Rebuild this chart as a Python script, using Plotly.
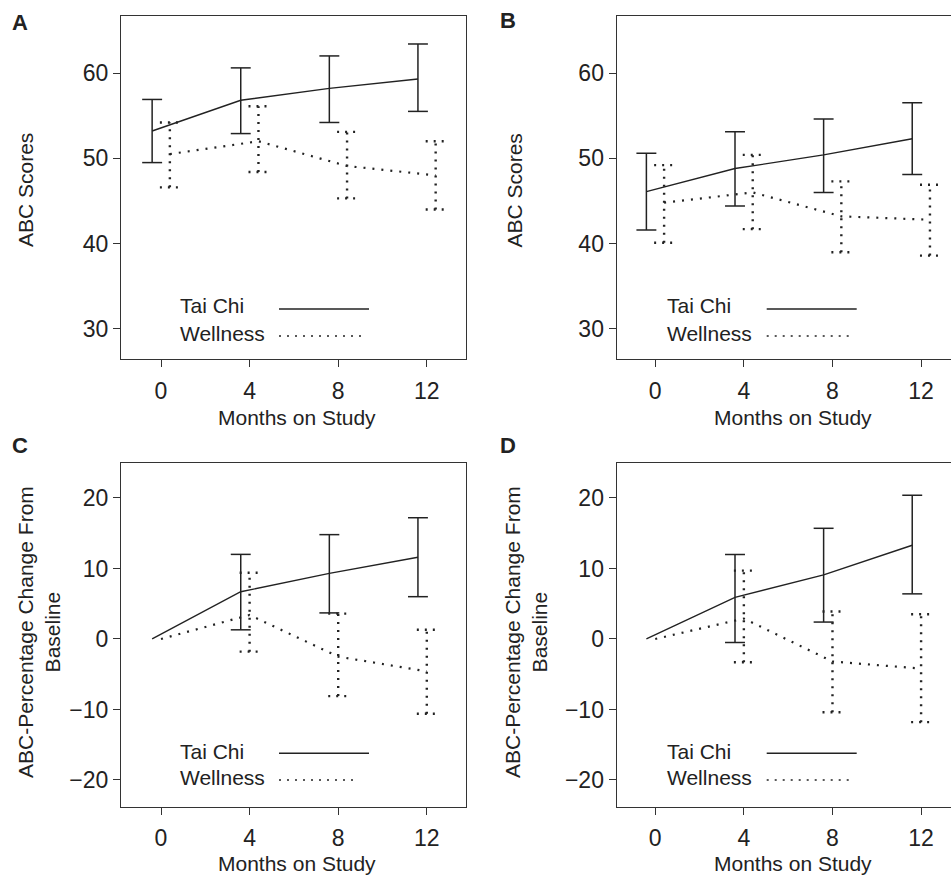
import plotly.graph_objects as go

# ---------------- data ----------------
months = [0, 4, 8, 12]
month_ticks = ["0", "4", "8", "12"]

# Panel A: ABC scores (all)
A_taichi_mean = [53.2, 56.8, 58.2, 59.3]
A_taichi_lo = [49.5, 52.9, 54.2, 55.5]
A_taichi_hi = [56.9, 60.6, 62.0, 63.4]
A_well_mean = [50.5, 52.0, 49.1, 48.0]
A_well_lo = [46.6, 48.4, 45.3, 44.0]
A_well_hi = [54.2, 56.1, 53.1, 52.0]

# Panel B: ABC scores (subgroup)
B_taichi_mean = [46.1, 48.8, 50.4, 52.3]
B_taichi_lo = [41.6, 44.4, 46.0, 48.1]
B_taichi_hi = [50.6, 53.1, 54.6, 56.5]
B_well_mean = [44.8, 46.0, 43.2, 42.8]
B_well_lo = [40.1, 41.7, 39.0, 38.6]
B_well_hi = [49.2, 50.4, 47.3, 46.9]

# Panel C: % change from baseline (all)
C_taichi_mean = [0, 6.7, 9.3, 11.6]
C_taichi_lo = [None, 1.3, 3.7, 6.0]
C_taichi_hi = [None, 12.0, 14.8, 17.2]
C_well_mean = [0, 3.4, -2.5, -4.6]
C_well_lo = [None, -1.8, -8.1, -10.6]
C_well_hi = [None, 9.4, 3.6, 1.3]

# Panel D: % change from baseline (subgroup)
D_taichi_mean = [0, 5.9, 9.1, 13.3]
D_taichi_lo = [None, -0.5, 2.4, 6.4]
D_taichi_hi = [None, 12.0, 15.7, 20.4]
D_well_mean = [0, 2.9, -3.2, -4.2]
D_well_lo = [None, -3.3, -10.4, -11.8]
D_well_hi = [None, 9.7, 3.9, 3.5]

scores_ticks = [30, 40, 50, 60]
change_ticks = [-20, -10, 0, 10, 20]

# ---------------- style ----------------
W, H = 951, 875
FONT = "Liberation Sans, Arial, Helvetica, sans-serif"
INK = "#222222"
AX = "#333333"
FS = 21
TFS = 23
CAP = 0.45

def px(x):
    return x / W

def py(y):
    return 1 - y / H

def errbar_xy(xs, lo, hi, off):
    ex, ey = [], []
    for x, l, h in zip(xs, lo, hi):
        if l is None or h is None:
            continue
        xx = x + off
        ex += [xx, xx, None, xx - CAP, xx + CAP, None, xx - CAP, xx + CAP, None]
        ey += [l, h, None, h, h, None, l, l, None]
    return ex, ey

fig = go.Figure()

panels = [
    dict(key="", tm=A_taichi_mean, tl=A_taichi_lo, th=A_taichi_hi,
         wm=A_well_mean, wl=A_well_lo, wh=A_well_hi, woff=0.4),
    dict(key="2", tm=B_taichi_mean, tl=B_taichi_lo, th=B_taichi_hi,
         wm=B_well_mean, wl=B_well_lo, wh=B_well_hi, woff=0.4),
    dict(key="3", tm=C_taichi_mean, tl=C_taichi_lo, th=C_taichi_hi,
         wm=C_well_mean, wl=C_well_lo, wh=C_well_hi, woff=0.0),
    dict(key="4", tm=D_taichi_mean, tl=D_taichi_lo, th=D_taichi_hi,
         wm=D_well_mean, wl=D_well_lo, wh=D_well_hi, woff=0.0),
]

for p in panels:
    xa, ya = "x" + p["key"], "y" + p["key"]
    toff = -0.4
    fig.add_trace(go.Scatter(x=[m + toff for m in months], y=p["tm"], mode="lines",
                             line=dict(color=INK, width=1.4), xaxis=xa, yaxis=ya,
                             showlegend=False, hoverinfo="skip"))
    ex, ey = errbar_xy(months, p["tl"], p["th"], toff)
    fig.add_trace(go.Scatter(x=ex, y=ey, mode="lines", connectgaps=False,
                             line=dict(color=INK, width=1.5), xaxis=xa, yaxis=ya,
                             showlegend=False, hoverinfo="skip"))
    fig.add_trace(go.Scatter(x=[m + p["woff"] for m in months], y=p["wm"], mode="lines",
                             line=dict(color=INK, width=2.2, dash="2px,7px"), xaxis=xa, yaxis=ya,
                             showlegend=False, hoverinfo="skip"))
    ex, ey = errbar_xy(months, p["wl"], p["wh"], p["woff"])
    fig.add_trace(go.Scatter(x=ex, y=ey, mode="lines", connectgaps=False,
                             line=dict(color=INK, width=2.4, dash="2px,6px"), xaxis=xa, yaxis=ya,
                             showlegend=False, hoverinfo="skip"))

def xaxis(dom, rng, anchor):
    return dict(domain=dom, range=rng, anchor=anchor, tickvals=months, ticktext=month_ticks,
                ticks="outside", ticklen=7, tickwidth=1.2, tickcolor=AX,
                showline=True, linecolor=AX, linewidth=1.3, mirror=True,
                showgrid=False, zeroline=False, ticklabelstandoff=4,
                tickfont=dict(family=FONT, size=TFS, color=INK), fixedrange=True)

def yaxis(dom, rng, anchor, tv, full=True):
    return dict(domain=dom, range=rng, anchor=anchor, tickvals=tv,
                ticktext=[("\u2212" + str(-v)) if v < 0 else str(v) for v in tv],
                ticks="outside", ticklen=7, tickwidth=1.2, tickcolor=AX,
                showline=True, linecolor=AX, linewidth=1.3, mirror=full,
                showgrid=False, zeroline=False,
                tickfont=dict(family=FONT, size=TFS, color=INK), fixedrange=True)

xA = [px(121), px(466)]
xB = [px(616.7), 1.0]
yTop = [py(359), py(16)]
yBot = [py(806.7), py(463.3)]

fig.update_layout(
    width=W, height=H, margin=dict(l=0, r=0, t=0, b=0),
    paper_bgcolor="white", plot_bgcolor="white", showlegend=False,
    xaxis=xaxis(xA, [-1.806, 13.77], "y"),
    yaxis=yaxis(yTop, [26.48, 66.68], "x", scores_ticks),
    xaxis2=xaxis(xB, [-1.74, 13.35], "y2"),
    yaxis2=yaxis(yTop, [26.48, 66.68], "x2", scores_ticks, full=False),
    xaxis3=xaxis(xA, [-1.806, 13.77], "y3"),
    yaxis3=yaxis(yBot, [-23.79, 24.92], "x3", change_ticks),
    xaxis4=xaxis(xB, [-1.74, 13.35], "y4"),
    yaxis4=yaxis(yBot, [-23.79, 24.92], "x4", change_ticks, full=False),
)

ann = []
shapes = []

def text(x, y, s, size=FS, bold=False, angle=0, xanchor="center"):
    if bold:
        s = "<b>" + s + "</b>"
    ann.append(dict(x=px(x), y=py(y), xref="paper", yref="paper", text=s, showarrow=False,
                    xanchor=xanchor, yanchor="middle", textangle=angle,
                    font=dict(family=FONT, size=size, color=INK)))

for lx, ly, s in [(19.5, 22.5, "A"), (508, 20.5, "B"), (19.5, 446, "C"), (508, 446, "D")]:
    text(lx, ly, s, size=22, bold=True)

for cx, cy in [(297, 417), (793, 417), (297, 863), (793, 863)]:
    text(cx, cy, "Months on Study")
text(25.5, 190.5, "ABC Scores", angle=-90)
text(514, 190.5, "ABC Scores", angle=-90)
text(39, 632, "ABC-Percentage Change From<br>Baseline", angle=-90)
text(526, 632, "ABC-Percentage Change From<br>Baseline", angle=-90)

legends = [
    (178, 306, 333, 279, 369, 365, 309, 336),
    (665, 306, 333, 766.7, 856.7, 851.7, 309, 336),
    (178, 751, 777.7, 279, 369, 355, 753.3, 780),
    (665, 751, 777.7, 766.7, 856.7, 851.7, 753.3, 780),
]
for tx, ty1, ty2, lx0, lx1, lx2, ly1, ly2 in legends:
    text(tx, ty1, "Tai Chi", xanchor="left")
    text(tx, ty2, "Wellness", xanchor="left")
    shapes.append(dict(type="line", xref="paper", yref="paper", x0=px(lx0), x1=px(lx1),
                       y0=py(ly1), y1=py(ly1), line=dict(color=INK, width=1.4)))
    shapes.append(dict(type="line", xref="paper", yref="paper", x0=px(lx0), x1=px(lx2),
                       y0=py(ly2), y1=py(ly2), line=dict(color=INK, width=1.4, dash="2px,6px")))

fig.update_layout(annotations=ann, shapes=shapes)
fig.write_html("out.html", config={"displayModeBar": False},
               post_script="document.body.style.margin='0px';document.body.style.overflow='hidden';")
